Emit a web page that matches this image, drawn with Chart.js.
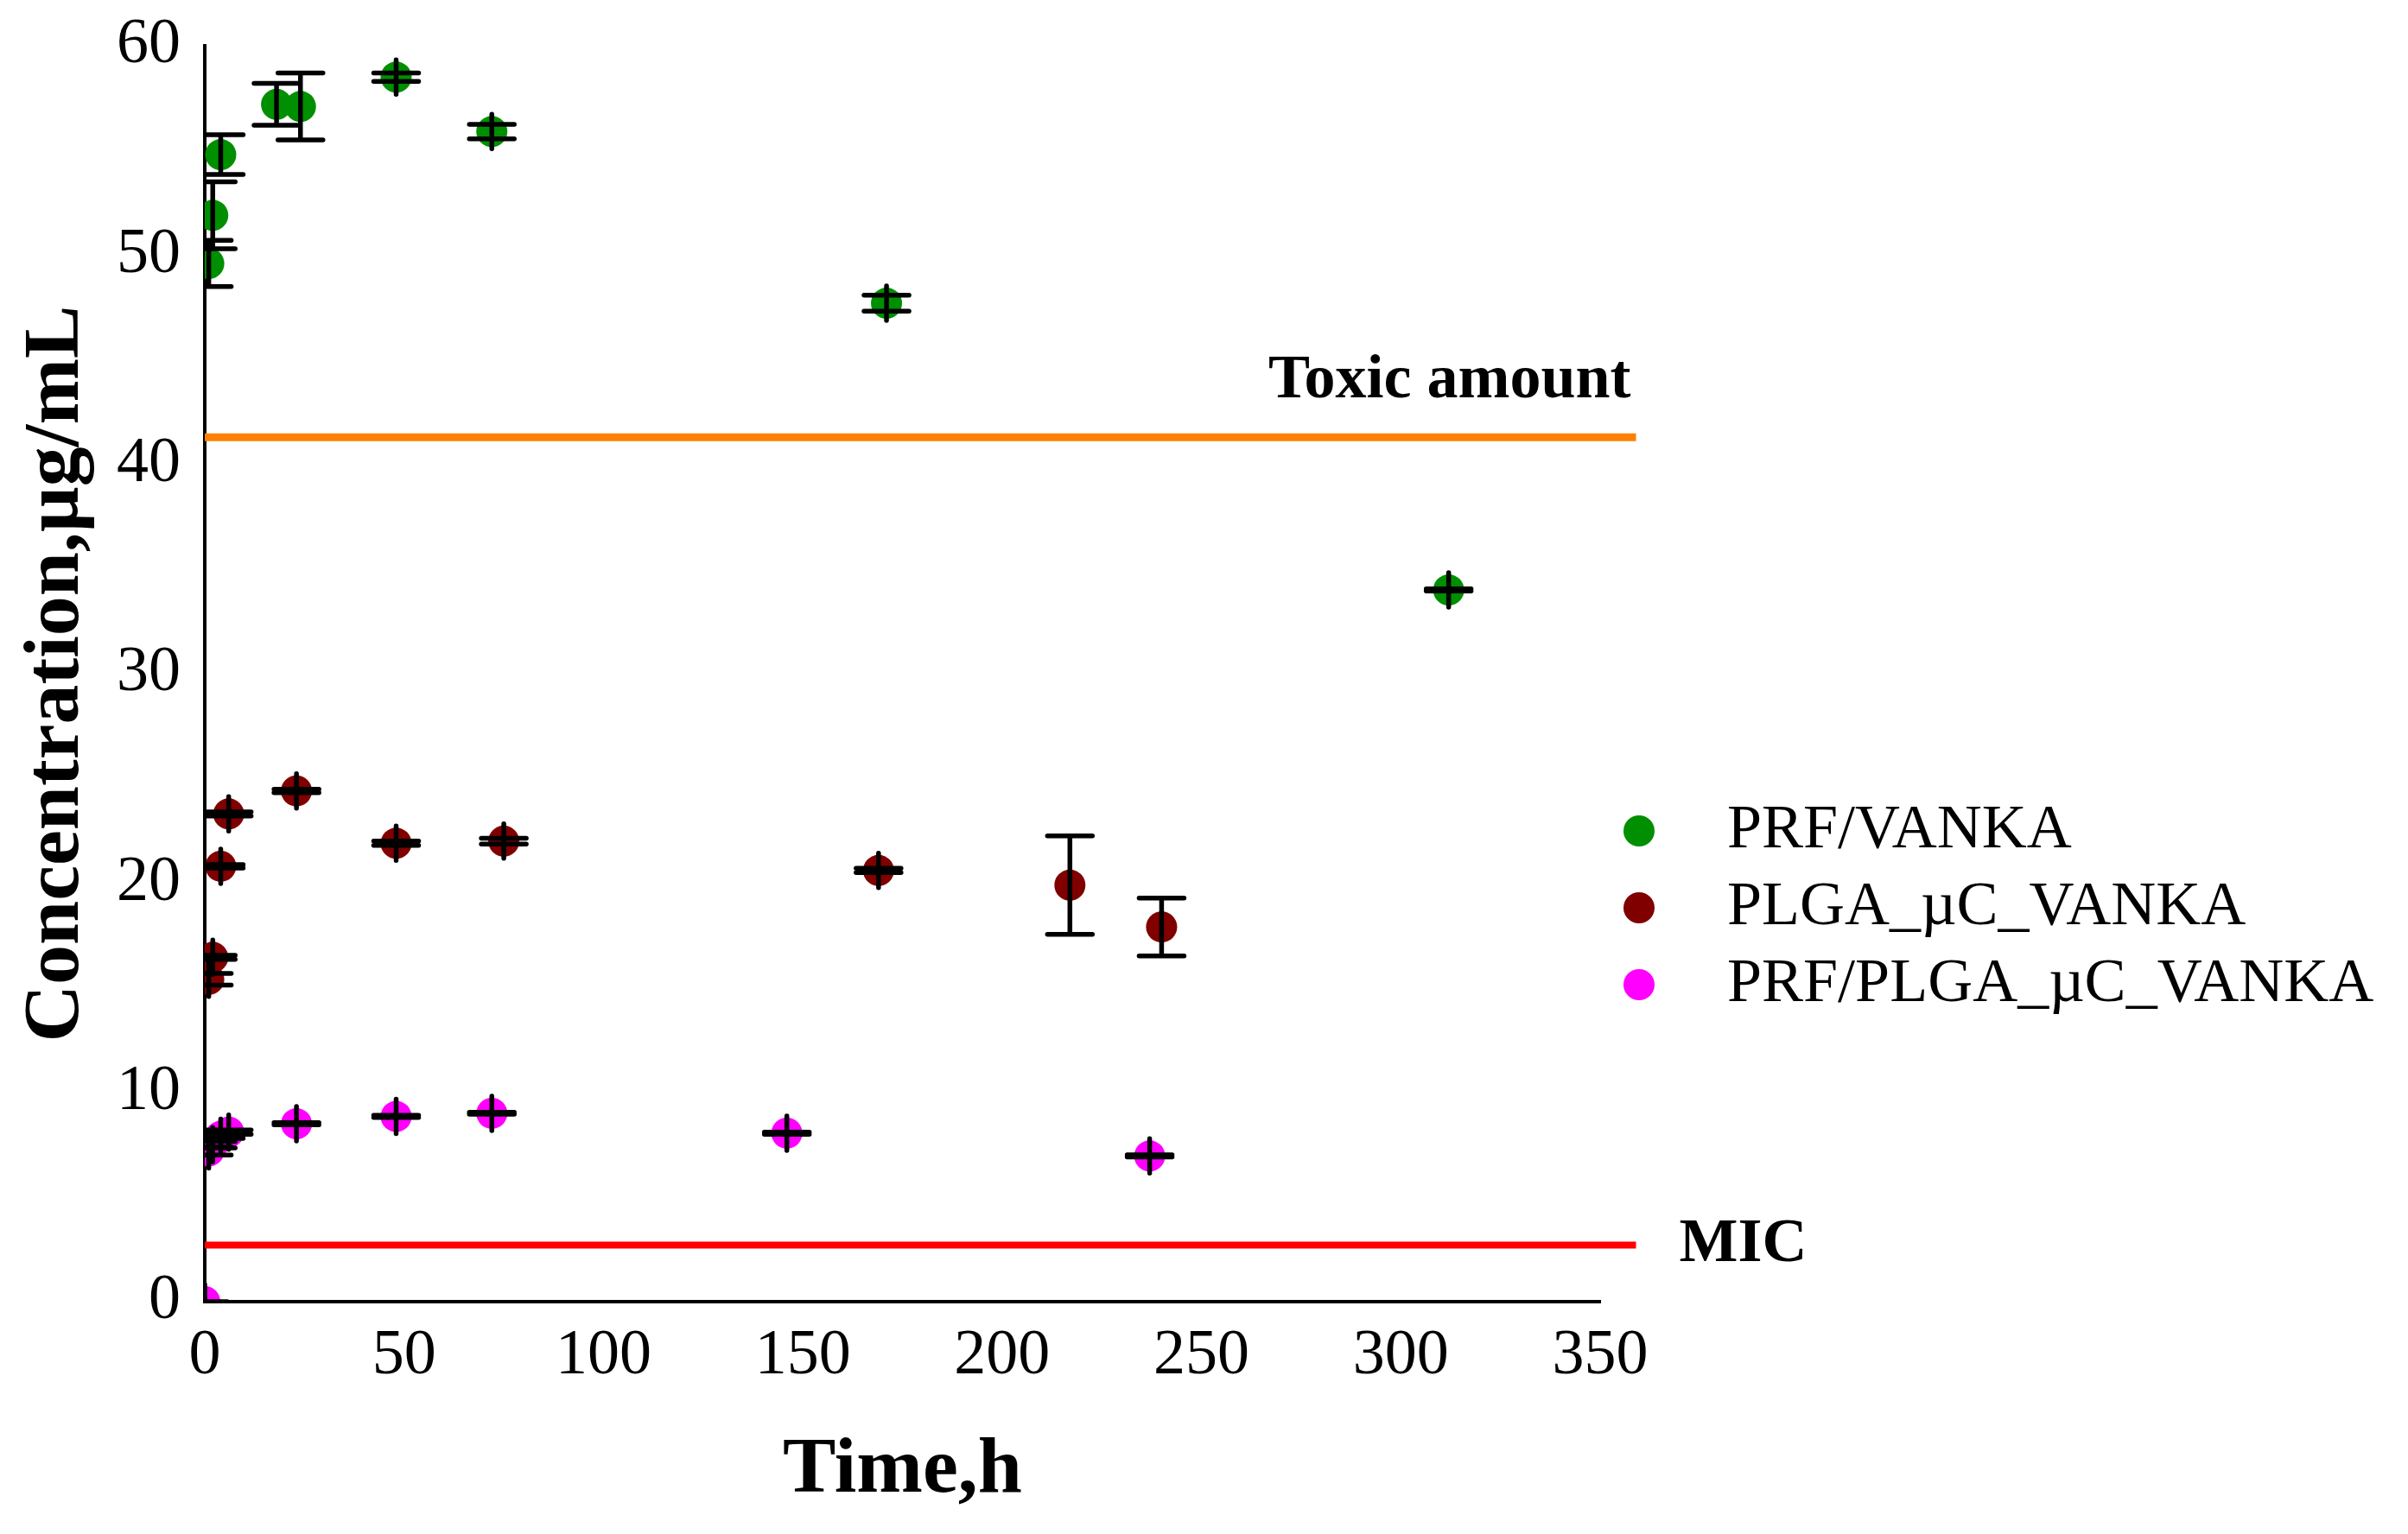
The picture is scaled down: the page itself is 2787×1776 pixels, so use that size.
<!DOCTYPE html>
<html>
<head>
<meta charset="utf-8">
<script src="https://cdn.jsdelivr.net/npm/chart.js@4.4.0/dist/chart.umd.min.js"></script>
<style>
  html, body { margin: 0; padding: 0; background: #fff; }
  #wrap { width: 2787px; height: 1776px; }
</style>
</head>
<body>
<div id="wrap"><canvas id="grafica" width="2787" height="1776"></canvas></div>
<script>
// Datos (tiempo en h, concentración en µg/mL, desviación)
const prfVankaTime = [1, 2, 4, 18, 24, 48, 72, 171, 312];
const prfVankaConc = [49.6, 51.9, 54.8, 57.2, 57.1, 58.5, 55.9, 47.7, 34.0];
const prfVankaSd   = [1.1, 1.6, 0.95, 1.0, 1.6, 0.2, 0.35, 0.38, 0.05];

const plgaTime = [1, 2, 4, 6, 23, 48, 75, 169, 217, 240];
const plgaConc = [15.4, 16.45, 20.8, 23.3, 24.4, 21.9, 22.0, 20.6, 19.9, 17.9];
const plgaSd   = [0.28, 0.1, 0.08, 0.1, 0.08, 0.1, 0.14, 0.1, 2.35, 1.38];

const prfPlgaTime = [0, 1, 2, 4, 6, 23, 48, 72, 146, 237];
const prfPlgaConc = [0, 7.2, 7.5, 7.9, 8.1, 8.5, 8.85, 9.0, 8.05, 6.96];
const prfPlgaSd   = [0, 0.2, 0.15, 0.1, 0.1, 0.05, 0.05, 0.05, 0.05, 0.05];

const seriesNames = ['PRF/VANKA', 'PLGA_\u00b5C_VANKA', 'PRF/PLGA_\u00b5C_VANKA'];
const seriesColors = ['#008f00', '#800000', '#ff00ff'];

const toxicLevel = 41.3;
const micLevel = 2.7;
const lineEnd = 359;

const serif = 'Liberation Serif, Times New Roman, serif';
const puntos = (xs, ys) => xs.map((x, i) => ({ x: x, y: ys[i] }));

// barras de error negras encima de los puntos
const errorBars = {
  id: 'errorBars',
  afterDatasetsDraw(chart) {
    const { ctx, chartArea: a, scales: { x, y } } = chart;
    ctx.save();
    ctx.beginPath();
    ctx.rect(a.left, a.top, a.right - a.left, a.bottom - a.top);
    ctx.clip();
    ctx.strokeStyle = '#000';
    ctx.lineWidth = 5.5;
    ctx.lineCap = 'round';
    chart.data.datasets.forEach(ds => {
      if (!ds.sd) return;
      ds.data.forEach((p, i) => {
        const px = x.getPixelForValue(p.x);
        const py = y.getPixelForValue(p.y);
        const top = y.getPixelForValue(p.y + ds.sd[i]);
        const bot = y.getPixelForValue(p.y - ds.sd[i]);
        ctx.beginPath();
        ctx.moveTo(px, top); ctx.lineTo(px, bot);
        ctx.moveTo(px - 26, top); ctx.lineTo(px + 26, top);
        ctx.moveTo(px - 26, bot); ctx.lineTo(px + 26, bot);
        // error en x = 0: los topes quedan como raya vertical
        ctx.moveTo(px, py - 20); ctx.lineTo(px, py + 20);
        ctx.stroke();
      });
    });
    ctx.restore();
  }
};

// textos "Toxic amount", "MIC" y leyenda a la derecha
const extras = {
  id: 'extras',
  afterDraw(chart) {
    const { ctx, scales: { x, y } } = chart;
    ctx.save();
    ctx.fillStyle = '#000';
    ctx.font = 'bold 72px ' + serif;
    ctx.textAlign = 'right';
    ctx.textBaseline = 'alphabetic';
    ctx.fillText('Toxic amount', x.getPixelForValue(lineEnd) - 6, y.getPixelForValue(toxicLevel) - 46);
    ctx.textAlign = 'left';
    ctx.fillText('MIC', x.getPixelForValue(lineEnd) + 50, y.getPixelForValue(micLevel) + 18);

    ctx.font = '72px ' + serif;
    ctx.textBaseline = 'middle';
    chart.data.datasets.filter(d => d.sd).forEach((d, i) => {
      const cy = 962 + i * 89;
      ctx.fillStyle = d.backgroundColor;
      ctx.beginPath();
      ctx.arc(1897, cy, 18, 0, Math.PI * 2);
      ctx.fill();
      ctx.fillStyle = '#000';
      ctx.fillText(d.label, 1999, cy);
    });
    ctx.restore();
  }
};

const marcador = (i, xs, ys, sd) => ({
  label: seriesNames[i],
  data: puntos(xs, ys),
  sd: sd,
  backgroundColor: seriesColors[i],
  pointRadius: 18,
  pointHoverRadius: 18,
  borderWidth: 0,
  clip: 0
});

const linea = (nivel, color, ancho) => ({
  label: '',
  data: [{ x: 0, y: nivel }, { x: lineEnd, y: nivel }],
  showLine: true,
  borderColor: color,
  borderWidth: ancho,
  pointRadius: 0,
  clip: false
});

const ctx = document.getElementById('grafica').getContext('2d');
new Chart(ctx, {
  type: 'scatter',
  data: {
    datasets: [
      marcador(0, prfVankaTime, prfVankaConc, prfVankaSd),
      marcador(1, plgaTime, plgaConc, plgaSd),
      marcador(2, prfPlgaTime, prfPlgaConc, prfPlgaSd),
      linea(toxicLevel, '#ff8000', 9),
      linea(micLevel, '#ff0000', 8)
    ]
  },
  options: {
    responsive: false,
    devicePixelRatio: 1,
    animation: false,
    events: [],
    layout: { padding: { top: 53, right: 935, bottom: 0, left: 0 } },
    plugins: { legend: { display: false }, tooltip: { enabled: false } },
    scales: {
      x: {
        type: 'linear', min: 0, max: 350, z: 1,
        grid: { display: false, drawTicks: false },
        border: { display: true, color: '#000', width: 4 },
        ticks: { stepSize: 50, padding: 19, color: '#000', font: { family: serif, size: 74 } },
        title: { display: true, text: 'Time,h', color: '#000', padding: { top: 0, bottom: 18 },
                 font: { family: serif, size: 92, weight: 'bold' } },
        afterFit: s => { s.height = 269; }
      },
      y: {
        type: 'linear', min: 0, max: 60, z: 1,
        // marcas invisibles: dan el hueco entre números y eje sin inflar el margen superior
        grid: { display: true, drawOnChartArea: false, drawTicks: true, tickLength: 28, tickColor: 'rgba(0,0,0,0)' },
        border: { display: true, color: '#000', width: 4 },
        ticks: { stepSize: 10, padding: 0, color: '#000', font: { family: serif, size: 74 } },
        title: { display: true, text: 'Concentration,\u00b5g/mL', color: '#000', padding: { top: 11, bottom: 0 },
                 font: { family: serif, size: 92, weight: 'bold' } },
        afterFit: s => { s.width = 237; }
      }
    }
  },
  plugins: [errorBars, extras]
});
</script>
</body>
</html>
